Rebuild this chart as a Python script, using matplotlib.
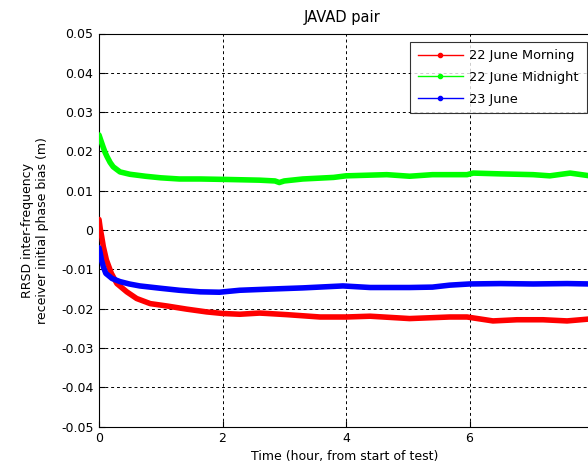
import matplotlib
matplotlib.use("Agg")
import matplotlib.pyplot as plt
from matplotlib.lines import Line2D

plt.rcParams['font.family'] = ['DejaVu Sans']

title = "JAVAD pair"
xlabel = "Time (hour, from start of test)"
ylabel = "RRSD inter-frequency\nreceiver initial phase bias (m)"
labels = ["22 June Morning", "22 June Midnight", "23 June"]
colors = ["#ff0000", "#00ff00", "#0000ff"]

xticks = [0, 2, 4, 6]
yticks = [-0.05, -0.04, -0.03, -0.02, -0.01, 0, 0.01, 0.02, 0.03, 0.04, 0.05]
ytick_labels = ["-0.05", "-0.04", "-0.03", "-0.02", "-0.01", "0", "0.01", "0.02", "0.03", "0.04", "0.05"]

t_morning = [0, 0.02, 0.044, 0.07, 0.12, 0.2, 0.29, 0.45, 0.61, 0.83, 1.1, 1.42, 1.74, 2.0,
             2.28, 2.6, 2.72, 3.04, 3.58, 4.0, 4.39, 5.03, 5.68, 5.96, 6.38, 6.77, 7.19, 7.58, 7.95]
v_morning = [0.0027, 0.0004, -0.0017, -0.0042, -0.0076, -0.0110, -0.0136, -0.0157, -0.0174,
             -0.0187, -0.0193, -0.0201, -0.0208, -0.0212, -0.0214, -0.0211, -0.0212, -0.0215,
             -0.0221, -0.0221, -0.0219, -0.0225, -0.0221, -0.0221, -0.0231, -0.0228, -0.0228,
             -0.0231, -0.0226]

t_midnight = [0, 0.03, 0.065, 0.1, 0.13, 0.18, 0.23, 0.34, 0.5, 0.75, 1.0, 1.3, 1.64, 2.0, 2.3,
              2.6, 2.85, 2.92, 3.0, 3.3, 3.8, 4.0, 4.66, 5.03, 5.4, 5.96, 6.06, 6.5, 7.03, 7.3,
              7.63, 7.95]
v_midnight = [0.0242, 0.0228, 0.0212, 0.0197, 0.0187, 0.0172, 0.0161, 0.0148, 0.0142, 0.0137,
              0.0133, 0.0130, 0.0130, 0.0129, 0.0128, 0.0127, 0.0125, 0.0121, 0.0125, 0.0130,
              0.0134, 0.0138, 0.0141, 0.0137, 0.0141, 0.0141, 0.0145, 0.0143, 0.0141, 0.0138,
              0.0145, 0.0138]

t_june23 = [0, 0.02, 0.04, 0.07, 0.11, 0.18, 0.21, 0.34, 0.49, 0.66, 1.0, 1.3, 1.64, 1.95, 2.28,
            2.77, 3.3, 3.95, 4.39, 5.03, 5.4, 5.68, 6.0, 6.5, 7.03, 7.58, 7.95]
v_june23 = [-0.0045, -0.0059, -0.0076, -0.0093, -0.0110, -0.0119, -0.0123, -0.0131, -0.0137,
            -0.0142, -0.0148, -0.0153, -0.0157, -0.0158, -0.0153, -0.0150, -0.0147, -0.0142,
            -0.0146, -0.0146, -0.0145, -0.0140, -0.0137, -0.0136, -0.0137, -0.0136, -0.0137]

fig = plt.figure(figsize=(5.88, 4.67), dpi=100)
W, H = 588, 467
left, right, top, bottom = 99, 593, 33.5, 426.7
ax = fig.add_axes([left / W, 1 - bottom / H, (right - left) / W, (bottom - top) / H])

series = [(t_morning, v_morning), (t_midnight, v_midnight), (t_june23, v_june23)]
for (t, v), c in zip(series, colors):
    ax.plot(t, v, color=c, lw=4.0, solid_capstyle='round', solid_joinstyle='round', zorder=3)

ax.set_xlim(0, 8)
ax.set_ylim(-0.05, 0.05)
ax.set_xticks(xticks)
ax.set_yticks(yticks)
ax.set_yticklabels(ytick_labels)
ax.tick_params(direction='in', length=4, width=0.8, labelsize=9, pad=4, top=False, right=False)
ax.grid(True, color='black', linestyle=(0, (3, 3)), linewidth=0.7)
for s in ['left', 'bottom', 'top']:
    ax.spines[s].set_linewidth(0.8)
ax.set_title(title, fontsize=10.5, pad=8, x=(342 - left) / (right - left))
ax.set_xlabel(xlabel, fontsize=9)
ax.xaxis.set_label_coords((345 - left) / (right - left), -(450 - bottom) / (bottom - top))
ax.set_ylabel(ylabel, fontsize=9)
ax.yaxis.set_label_coords((49 - left) / (right - left), 0.5)

handles = [Line2D([], [], color=c, lw=1, marker='.', markersize=6) for c in colors]
leg = fig.legend(handles, labels, loc='upper left', bbox_to_anchor=(410 / W, 1 - 41.7 / H),
                 fontsize=9.3, frameon=True, fancybox=False, borderaxespad=0,
                 handlelength=3.5, handletextpad=0.5, labelspacing=0.66, borderpad=0.6)
leg.get_frame().set_edgecolor('black')
leg.get_frame().set_linewidth(0.8)

fig.savefig("out.png", dpi=100)
